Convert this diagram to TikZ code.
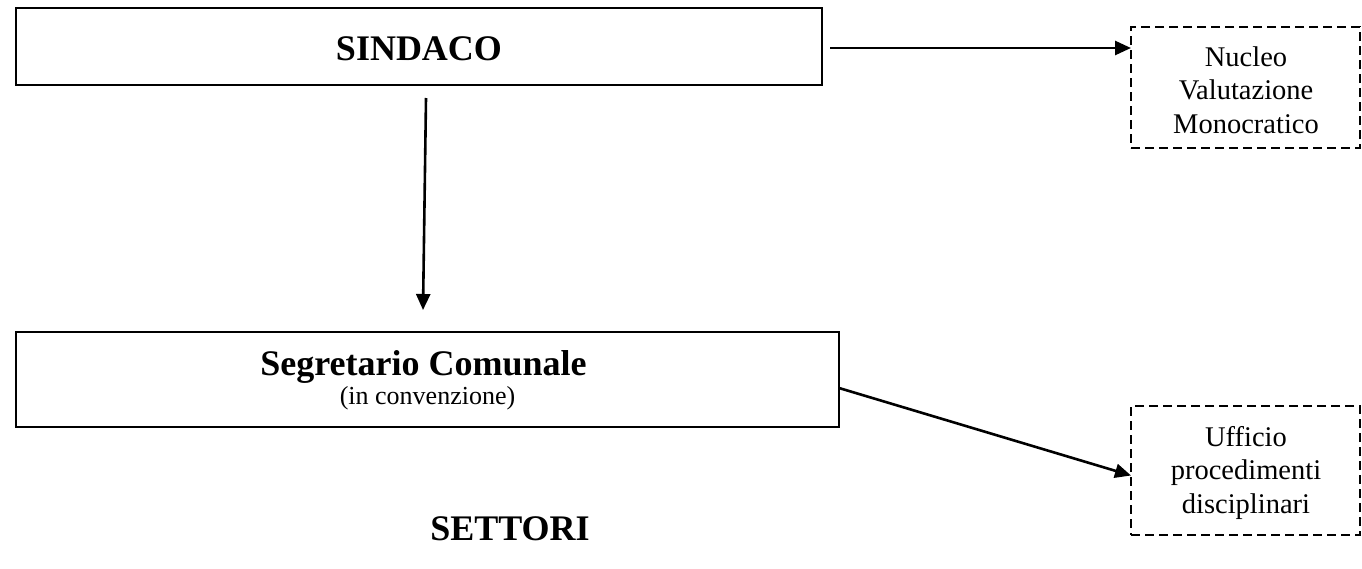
\documentclass[tikz,border=0pt]{standalone}
\usepackage{fontspec}
\setmainfont{Liberation Serif}
\usetikzlibrary{arrows.meta}
\begin{document}
\begin{tikzpicture}[x=1pt,y=-1pt,
  solidbox/.style={draw=black,line width=2.2pt,rectangle,inner sep=0pt,outer sep=0pt},
  dashbox/.style={draw=black,line width=1.8pt,dash pattern=on 9pt off 5pt,rectangle,inner sep=0pt,outer sep=0pt},
  txt/.style={inner sep=0pt,anchor=base},
  arr/.style={line width=2.6pt,-{Triangle[length=16pt,width=14pt]}},
  big/.style={font=\fontsize{36}{40}\selectfont\bfseries},
  small/.style={font=\fontsize{26}{30}\selectfont},
  mid/.style={font=\fontsize{28.5}{33}\selectfont}]
\useasboundingbox (0,0) rectangle (1362,568);
% boxes
\node[solidbox,minimum width=806pt,minimum height=77pt] (sindaco) at (419,46.5) {};
\node[solidbox,minimum width=823pt,minimum height=95pt] (segr) at (427.5,379.5) {};
\node[dashbox,minimum width=229pt,minimum height=121pt] (nucleo) at (1245.5,87.5) {};
\node[dashbox,minimum width=229pt,minimum height=129pt] (ufficio) at (1245.5,470.5) {};
% texts
\node[txt,big] (tsind) at (419,60) {SINDACO};
\node[txt,big] (tsegr) at (423.5,375) {Segretario Comunale};
\node[txt,small] (tconv) at (427.5,404) {(in convenzione)};
\node[txt,big] (tsett) at (510,540) {SETTORI};
\node[txt,mid] (nuc1) at (1246,66) {Nucleo};
\node[txt,mid] (nuc2) at (1246,99.5) {Valutazione};
\node[txt,mid] (nuc3) at (1246,133) {Monocratico};
\node[txt,mid] (uff1) at (1246,446) {Ufficio};
\node[txt,mid] (uff2) at (1246,479.5) {procedimenti};
\node[txt,mid] (uff3) at (1246,513) {disciplinari};
% connectors
\draw[arr] ([xshift=8pt,yshift=-1.5pt]sindaco.east) -- ([yshift=-1.5pt]sindaco.east -| nucleo.west);
\draw[arr] ([xshift=7pt,yshift=-13pt]sindaco.south) -- ([xshift=-4.5pt,yshift=22pt]segr.north);
\draw[arr] ([yshift=-8.5pt]segr.east) -- ([yshift=-5pt]ufficio.west);
\end{tikzpicture}
\end{document}
